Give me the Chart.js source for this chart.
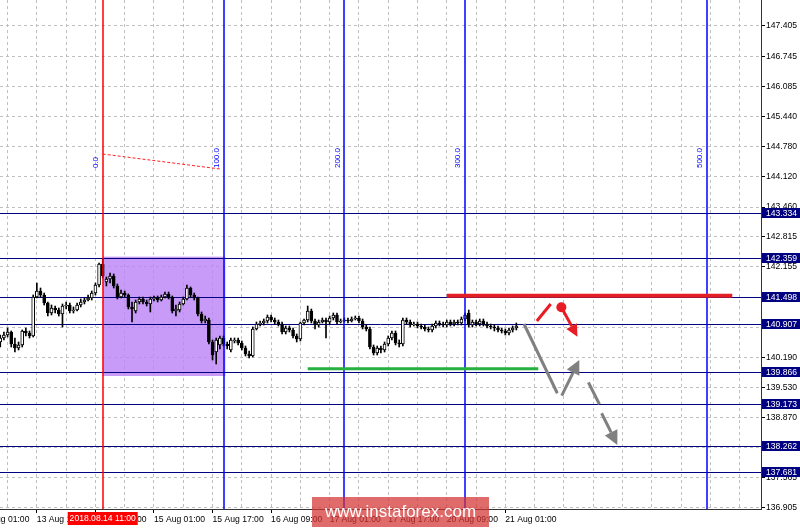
<!DOCTYPE html>
<html>
<head>
<meta charset="utf-8">
<script src="https://cdn.jsdelivr.net/npm/chart.js@4.4.0/dist/chart.umd.min.js"></script>
<style>
  html, body { margin: 0; padding: 0; background: #fff; }
  canvas { display: block; }
</style>
</head>
<body>
<canvas id="chart" width="800" height="528"></canvas>
<script>
// GBPJPY H1, bars counted from 13 Aug 01:00 (bar 0)
const firstBar = 6;
const xMin = 5.93, xMax = 213.85;
const yMin = 136.883, yMax = 147.971;

const xTickBars = [0, 16, 32, 48, 64, 80, 96, 112, 128, 144];
const xTickLabels = ['13 Aug 01:00', '13 Aug 17:00', '14 Aug 09:00', '15 Aug 01:00', '15 Aug 17:00',
  '16 Aug 09:00', '17 Aug 01:00', '17 Aug 17:00', '20 Aug 09:00', '21 Aug 01:00'];

const yTickValues = [147.405, 146.745, 146.085, 145.440, 144.780, 144.120, 143.460, 142.815, 142.155,
  141.495, 140.845, 140.190, 139.530, 138.870, 138.215, 137.565, 136.905];
const yTickLabels = ['147.405', '146.745', '146.085', '145.440', '144.780', '144.120', '143.460', '142.815', '142.155',
  '141.495', '140.845', '140.190', '139.530', '138.870', '138.215', '137.565', '136.905'];

const opens = [
  140.521, 140.608, 140.674, 140.739, 140.478, 140.391, 140.456, 140.761, 140.717, 140.652,
  141.501, 141.632, 141.545, 141.371, 141.153, 141.262, 141.218, 141.131, 141.305, 141.327,
  141.196, 141.218, 141.327, 141.393, 141.436, 141.480, 141.588, 141.763, 142.220, 141.828,
  141.894, 141.959, 141.741, 141.501, 141.588, 141.545, 141.284, 141.196, 141.393, 141.458,
  141.393, 141.349, 141.458, 141.480, 141.436, 141.501, 141.567, 141.501, 141.196, 141.218,
  141.349, 141.458, 141.697, 141.545, 141.480, 141.131, 140.979, 141.000, 140.521, 140.303,
  140.456, 140.608, 140.478, 140.347, 140.543, 140.565, 140.500, 140.391, 140.260, 140.216,
  140.805, 140.913, 140.935, 140.979, 141.066, 141.000, 140.957, 140.913, 140.739, 140.826,
  140.783, 140.652, 140.587, 140.935, 141.000, 141.196, 140.979, 140.892, 140.957, 141.000,
  140.957, 141.044, 141.109, 140.957, 140.979, 141.000, 140.979, 141.022, 141.044, 140.979,
  140.848, 140.805, 140.412, 140.282, 140.391, 140.347, 140.478, 140.608, 140.717, 140.500,
  140.478, 141.000, 140.957, 140.892, 140.913, 140.870, 140.848, 140.805, 140.783, 140.870,
  140.935, 140.913, 140.892, 140.957, 140.913, 140.957, 140.935, 141.022, 141.153, 140.892,
  140.957, 140.913, 140.979, 140.913, 140.870, 140.848, 140.826, 140.783, 140.761, 140.717,
  140.783, 140.826
];
const highs = [
  140.674, 140.739, 140.826, 140.761, 140.608, 140.521, 140.783, 140.826, 140.761, 141.545,
  141.806, 141.697, 141.588, 141.393, 141.327, 141.305, 141.262, 141.349, 141.393, 141.371,
  141.284, 141.371, 141.458, 141.480, 141.545, 141.632, 141.806, 142.242, 142.329, 141.937,
  142.024, 142.003, 141.785, 141.654, 141.632, 141.567, 141.393, 141.436, 141.501, 141.501,
  141.436, 141.501, 141.523, 141.523, 141.545, 141.610, 141.610, 141.523, 141.327, 141.393,
  141.501, 141.763, 141.719, 141.588, 141.501, 141.175, 141.087, 141.044, 140.565, 140.608,
  140.652, 140.652, 140.521, 140.608, 140.608, 140.608, 140.543, 140.434, 140.325, 140.848,
  140.957, 140.979, 141.022, 141.109, 141.109, 141.044, 141.000, 140.957, 140.870, 140.870,
  140.826, 140.696, 140.957, 141.022, 141.305, 141.240, 141.022, 141.000, 141.044, 141.044,
  141.087, 141.153, 141.153, 141.022, 141.044, 141.044, 141.066, 141.087, 141.087, 141.022,
  140.892, 140.848, 140.456, 140.434, 140.434, 140.521, 140.652, 140.761, 140.761, 140.565,
  141.044, 141.044, 141.000, 140.957, 140.957, 140.913, 140.892, 140.848, 140.913, 140.979,
  140.979, 140.957, 141.000, 141.000, 141.000, 141.000, 141.066, 141.153, 141.218, 141.000,
  141.000, 141.022, 141.022, 140.957, 140.913, 140.892, 140.870, 140.826, 140.805, 140.826,
  140.870, 140.935
];
const lows = [
  140.412, 140.565, 140.630, 140.412, 140.303, 140.347, 140.412, 140.652, 140.608, 140.630,
  141.480, 141.501, 141.327, 141.087, 141.109, 141.153, 141.087, 140.848, 141.240, 141.153,
  141.153, 141.196, 141.284, 141.349, 141.414, 141.436, 141.545, 141.719, 141.915, 141.741,
  141.806, 141.697, 141.458, 141.480, 141.501, 141.240, 140.957, 141.153, 141.349, 141.349,
  141.305, 141.175, 141.414, 141.393, 141.414, 141.480, 141.458, 141.153, 141.087, 141.175,
  141.327, 141.436, 141.501, 141.436, 141.087, 140.935, 140.935, 140.478, 140.129, 140.042,
  140.369, 140.434, 140.369, 140.303, 140.500, 140.456, 140.347, 140.216, 140.173, 140.195,
  140.783, 140.870, 140.892, 140.935, 140.957, 140.913, 140.870, 140.696, 140.696, 140.739,
  140.608, 140.521, 140.543, 140.892, 140.957, 140.935, 140.805, 140.848, 140.935, 140.608,
  140.913, 141.000, 140.913, 140.935, 140.957, 140.935, 140.957, 141.000, 140.935, 140.805,
  140.761, 140.369, 140.238, 140.238, 140.282, 140.303, 140.434, 140.565, 140.456, 140.412,
  140.434, 140.913, 140.848, 140.870, 140.826, 140.805, 140.761, 140.739, 140.739, 140.826,
  140.870, 140.848, 140.848, 140.870, 140.870, 140.892, 140.892, 140.979, 140.848, 140.848,
  140.870, 140.870, 140.870, 140.826, 140.805, 140.761, 140.739, 140.717, 140.674, 140.674,
  140.739, 140.783
];
const closes = [
  140.608, 140.674, 140.739, 140.478, 140.391, 140.456, 140.761, 140.717, 140.652, 141.501,
  141.632, 141.545, 141.371, 141.153, 141.262, 141.218, 141.131, 141.305, 141.327, 141.196,
  141.218, 141.327, 141.393, 141.436, 141.480, 141.588, 141.763, 142.220, 141.959, 141.894,
  141.959, 141.741, 141.501, 141.588, 141.545, 141.284, 141.240, 141.393, 141.458, 141.393,
  141.349, 141.458, 141.480, 141.436, 141.501, 141.567, 141.501, 141.196, 141.240, 141.349,
  141.458, 141.697, 141.545, 141.480, 141.131, 140.979, 141.022, 140.521, 140.238, 140.565,
  140.608, 140.478, 140.434, 140.565, 140.565, 140.500, 140.391, 140.260, 140.216, 140.805,
  140.913, 140.935, 140.979, 141.066, 141.000, 140.957, 140.913, 140.739, 140.826, 140.783,
  140.652, 140.587, 140.935, 141.000, 141.196, 140.979, 140.892, 140.957, 141.000, 140.957,
  141.044, 141.109, 140.957, 140.979, 141.000, 140.979, 141.022, 141.044, 140.979, 140.848,
  140.805, 140.412, 140.282, 140.391, 140.347, 140.478, 140.608, 140.717, 140.500, 140.478,
  141.000, 140.957, 140.892, 140.913, 140.870, 140.848, 140.805, 140.783, 140.870, 140.935,
  140.913, 140.892, 140.957, 140.913, 140.957, 140.935, 141.022, 141.109, 140.892, 140.957,
  140.913, 140.979, 140.913, 140.870, 140.848, 140.826, 140.783, 140.761, 140.717, 140.783,
  140.826, 140.870
];

// horizontal levels with price boxes
const levels = [143.334, 142.359, 141.498, 140.907, 139.866, 139.173, 138.262, 137.681];

// fibo time zones
const fibBars = [34, 67, 100, 133, 199];
const fibLabels = ['0.0', '100.0', '200.0', '300.0', '500.0'];
const fibColors = ['#ff0000', '#0000ff', '#0000ff', '#0000ff', '#0000ff'];
const fibTrendBars = [34, 66];
const fibTrendPrices = [144.616, 144.29];

// purple rectangle
const boxBars = [34, 67.5];
const boxPrices = [142.38, 139.78];

// red resistance / green support
const resistBars = [128, 206];
const resistPrice = 141.53;
const supportBars = [90, 153];
const supportPrice = 139.94;

// forecast arrows
const redTickBars = [152.6, 156.4], redTickPrices = [140.979, 141.349];
const redArrowBars = [159.3, 163.7], redArrowPrices = [141.277, 140.637];
const grayLineBars = [149.1, 158.2], grayLinePrices = [140.913, 139.404];
const grayUpBars = [159.4, 164.2], grayUpPrices = [139.352, 140.129];
const grayDashBars = [166.7, 169.7], grayDashPrices = [139.643, 139.164];
const grayDownBars = [170.3, 174.6], grayDownPrices = [138.968, 138.278];

const markerBar = 34;
const markerLabel = '2018.08.14 11:00';

const axisFont = "'Liberation Sans', Arial, sans-serif";

const gridBars = [];
for (let b = 0; b <= 208; b += 8) gridBars.push(b);

function seg(ctx, x1, y1, x2, y2) {
    ctx.beginPath();
    ctx.moveTo(x1, y1);
    ctx.lineTo(x2, y2);
    ctx.stroke();
}

function arrow(ctx, x1, y1, x2, y2, color, width, head) {
    const a = Math.atan2(y2 - y1, x2 - x1);
    const bx = x2 - Math.cos(a) * head, by = y2 - Math.sin(a) * head;
    ctx.strokeStyle = color;
    ctx.lineWidth = width;
    seg(ctx, x1, y1, bx, by);
    ctx.fillStyle = color;
    ctx.beginPath();
    ctx.moveTo(x2, y2);
    ctx.lineTo(bx + Math.sin(a) * head * 0.5, by - Math.cos(a) * head * 0.5);
    ctx.lineTo(bx - Math.sin(a) * head * 0.5, by + Math.cos(a) * head * 0.5);
    ctx.closePath();
    ctx.fill();
}

const drawings = {
    id: 'drawings',
    beforeDatasetsDraw(chart) {
        const {ctx, chartArea: a, scales: {x, y}} = chart;
        ctx.save();
        const bx1 = x.getPixelForValue(boxBars[0]), bx2 = x.getPixelForValue(boxBars[1]);
        const by1 = y.getPixelForValue(boxPrices[0]), by2 = y.getPixelForValue(boxPrices[1]);
        ctx.fillStyle = 'rgba(185,130,245,0.8)';
        ctx.fillRect(bx1, by1, bx2 - bx1, by2 - by1);

        ctx.setLineDash([]);
        ctx.lineWidth = 1;
        ctx.strokeStyle = '#000080';
        levels.forEach(v => {
            const py = Math.round(y.getPixelForValue(v)) + 0.5;
            seg(ctx, a.left, py, a.right, py);
        });
        ctx.restore();
    },
    afterDatasetsDraw(chart) {
        const {ctx, chartArea: a, scales: {x, y}} = chart;
        ctx.save();
        ctx.setLineDash([]);
        ctx.lineWidth = 1.5;
        fibBars.forEach((b, k) => {
            const px = Math.round(x.getPixelForValue(b));
            ctx.strokeStyle = fibColors[k];
            seg(ctx, px, a.top, px, a.bottom);
        });

        // fibo trend (dotted red)
        ctx.lineWidth = 1;
        ctx.strokeStyle = '#ff2020';
        ctx.setLineDash([3, 2]);
        seg(ctx, x.getPixelForValue(fibTrendBars[0]), y.getPixelForValue(fibTrendPrices[0]),
            x.getPixelForValue(fibTrendBars[1]), y.getPixelForValue(fibTrendPrices[1]));
        ctx.setLineDash([]);

        // fibo labels
        ctx.fillStyle = '#0000ff';
        ctx.font = "8px 'Liberation Sans', sans-serif";
        ctx.textAlign = 'left';
        ctx.textBaseline = 'middle';
        fibBars.forEach((b, k) => {
            ctx.save();
            ctx.translate(x.getPixelForValue(b) - 7, y.getPixelForValue(144.31));
            ctx.rotate(-Math.PI / 2);
            ctx.fillText(fibLabels[k], 0, 0);
            ctx.restore();
        });

        // resistance and support
        ctx.lineWidth = 4;
        ctx.strokeStyle = '#e31e24';
        let py = y.getPixelForValue(resistPrice);
        seg(ctx, x.getPixelForValue(resistBars[0]), py, x.getPixelForValue(resistBars[1]), py);
        ctx.lineWidth = 3;
        ctx.strokeStyle = '#25b03f';
        py = y.getPixelForValue(supportPrice);
        seg(ctx, x.getPixelForValue(supportBars[0]), py, x.getPixelForValue(supportBars[1]), py);

        // red forecast
        ctx.lineWidth = 3;
        ctx.strokeStyle = '#e81c24';
        seg(ctx, x.getPixelForValue(redTickBars[0]), y.getPixelForValue(redTickPrices[0]),
            x.getPixelForValue(redTickBars[1]), y.getPixelForValue(redTickPrices[1]));
        const dx = x.getPixelForValue(redArrowBars[0]), dy = y.getPixelForValue(redArrowPrices[0]);
        ctx.fillStyle = '#e81c24';
        ctx.beginPath();
        ctx.arc(dx, dy, 5, 0, Math.PI * 2);
        ctx.fill();
        arrow(ctx, dx, dy, x.getPixelForValue(redArrowBars[1]), y.getPixelForValue(redArrowPrices[1]), '#e81c24', 3, 12);

        // gray forecast
        ctx.strokeStyle = '#808080';
        ctx.lineWidth = 3;
        seg(ctx, x.getPixelForValue(grayLineBars[0]), y.getPixelForValue(grayLinePrices[0]),
            x.getPixelForValue(grayLineBars[1]), y.getPixelForValue(grayLinePrices[1]));
        arrow(ctx, x.getPixelForValue(grayUpBars[0]), y.getPixelForValue(grayUpPrices[0]),
            x.getPixelForValue(grayUpBars[1]), y.getPixelForValue(grayUpPrices[1]), '#808080', 3, 14);
        ctx.strokeStyle = '#808080';
        ctx.lineWidth = 3;
        seg(ctx, x.getPixelForValue(grayDashBars[0]), y.getPixelForValue(grayDashPrices[0]),
            x.getPixelForValue(grayDashBars[1]), y.getPixelForValue(grayDashPrices[1]));
        arrow(ctx, x.getPixelForValue(grayDownBars[0]), y.getPixelForValue(grayDownPrices[0]),
            x.getPixelForValue(grayDownBars[1]), y.getPixelForValue(grayDownPrices[1]), '#808080', 3, 14);
        ctx.restore();
    },
    afterDraw(chart) {
        const {ctx, chartArea: a, scales: {x, y}} = chart;
        ctx.save();
        ctx.font = "8.6px " + axisFont;
        ctx.textBaseline = 'middle';
        levels.forEach(v => {
            const py = Math.round(y.getPixelForValue(v));
            ctx.fillStyle = '#000080';
            ctx.fillRect(a.right + 1, py - 5, 800 - a.right - 1, 10);
            ctx.fillStyle = '#fff';
            ctx.textAlign = 'left';
            ctx.fillText(v.toFixed(3), a.right + 5, py + 0.5);
        });

        // red time marker on the axis
        const mx = x.getPixelForValue(markerBar);
        ctx.fillStyle = '#ff0000';
        ctx.fillRect(mx - 35, a.bottom + 3, 70, 13);
        ctx.fillStyle = '#fff';
        ctx.textAlign = 'center';
        ctx.fillText(markerLabel, mx, a.bottom + 9.5);

        // watermark
        ctx.fillStyle = 'rgba(210,50,50,0.72)';
        ctx.fillRect(312, 497, 177, 30);
        ctx.fillStyle = '#fff';
        ctx.font = "17px 'Liberation Sans', Arial, sans-serif";
        ctx.fillText('www.instaforex.com', 400.5, 512.5);
        ctx.restore();
    }
};

const bodies = opens.map((o, k) => ({x: firstBar + k, y: [o, closes[k]]}));
const wicks = lows.map((l, k) => ({x: firstBar + k, y: [l, highs[k]]}));

new Chart(document.getElementById('chart'), {
    type: 'bar',
    data: {
        datasets: [
            {
                label: 'wick',
                data: wicks,
                backgroundColor: '#000',
                barThickness: 1,
                grouped: false,
                order: 2
            },
            {
                label: 'body',
                data: bodies,
                backgroundColor: opens.map((o, k) => closes[k] >= o ? '#fff' : '#000'),
                borderColor: '#000',
                borderWidth: 1,
                borderSkipped: false,
                barThickness: 3,
                grouped: false,
                order: 1
            }
        ]
    },
    options: {
        responsive: false,
        animation: false,
        layout: {padding: 0},
        plugins: {legend: {display: false}, tooltip: {enabled: false}},
        scales: {
            x: {
                type: 'linear',
                min: xMin,
                max: xMax,
                offset: false,
                grid: {
                    offset: false,
                    color: '#c0c0c0',
                    borderDash: [3, 3],
                    tickLength: 4,
                    tickColor: (c) => (c.tick && xTickBars.includes(c.tick.value)) ? '#000' : 'rgba(0,0,0,0)'
                },
                border: {display: true, color: '#333', width: 1, dash: [3, 3]},
                ticks: {
                    autoSkip: false,
                    maxRotation: 0,
                    align: 'start',
                    padding: 1,
                    color: '#000',
                    font: {family: axisFont, size: 8.6},
                    callback: (v) => {
                        const k = xTickBars.indexOf(v);
                        return k >= 0 ? xTickLabels[k] : '';
                    }
                },
                afterBuildTicks: (s) => { s.ticks = gridBars.map(v => ({value: v})); },
                afterFit: (s) => { s.height = 19; s.paddingLeft = 0; s.paddingRight = 0; }
            },
            y: {
                type: 'linear',
                position: 'right',
                min: yMin,
                max: yMax,
                grid: {
                    color: '#c0c0c0',
                    borderDash: [3, 3],
                    tickLength: 4,
                    tickColor: '#000'
                },
                border: {display: true, color: '#333', width: 1, dash: [3, 3]},
                ticks: {
                    padding: 1,
                    color: '#000',
                    font: {family: axisFont, size: 8.6},
                    callback: (v, i) => yTickLabels[i]
                },
                afterBuildTicks: (s) => { s.ticks = yTickValues.map(v => ({value: v})); },
                afterFit: (s) => { s.width = 39; s.paddingTop = 0; s.paddingBottom = 0; }
            }
        }
    },
    plugins: [drawings]
});
</script>
</body>
</html>
